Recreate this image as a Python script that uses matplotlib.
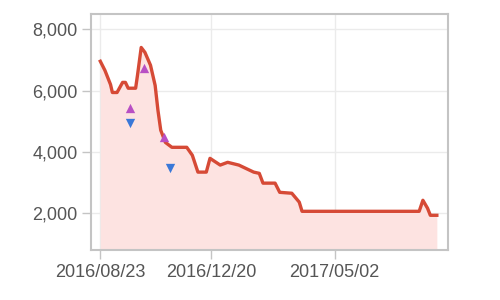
import pandas as pd
import numpy as np
import matplotlib
matplotlib.use('Agg')
from matplotlib import pyplot as plt
import matplotlib.dates as mdates
from matplotlib.ticker import FuncFormatter

plt.rcParams['font.family'] = ['Liberation Sans', 'DejaVu Sans']

# price line
dates = ['2016-08-23', '2016-08-28', '2016-09-03', '2016-09-05', '2016-09-10',
         '2016-09-16', '2016-09-19', '2016-09-22', '2016-09-30', '2016-10-02',
         '2016-10-06', '2016-10-10', '2016-10-16', '2016-10-21', '2016-10-24',
         '2016-10-27', '2016-11-01', '2016-11-08', '2016-11-24', '2016-11-30',
         '2016-12-06', '2016-12-15', '2016-12-19', '2016-12-30', '2017-01-07',
         '2017-01-19', '2017-02-04', '2017-02-10', '2017-02-14', '2017-02-27',
         '2017-03-04', '2017-03-17', '2017-03-25', '2017-03-28', '2017-08-01',
         '2017-08-05', '2017-08-10', '2017-08-13', '2017-08-20']
values = [6960, 6660, 6200, 5940, 5940,
          6270, 6270, 6080, 6080, 6500,
          7410, 7250, 6830, 6170, 5360,
          4710, 4310, 4150, 4150, 3890,
          3340, 3340, 3790, 3570, 3660,
          3570, 3340, 3300, 2980, 2980,
          2680, 2650, 2360, 2060, 2060,
          2420, 2160, 1930, 1930]

up_dates = ['2016-09-24', '2016-10-09', '2016-10-31']
up_values = [5450, 6730, 4480]
down_dates = ['2016-09-24', '2016-11-06']
down_values = [4930, 3470]

xticks = ['2016-08-23', '2016-12-20', '2017-05-02']

d = pd.to_datetime(dates)
fig = plt.figure(figsize=(5, 3), dpi=100)
ax = fig.add_axes([0.182, 0.167, 0.714, 0.786])

ax.fill_between(d, values, 800, color='#fde3e1', lw=0, zorder=1)
ax.plot(d, values, color='#d64a36', lw=2.4, zorder=3)
ax.scatter(pd.to_datetime(up_dates), up_values, marker='^', s=45, color='#b84fc4', zorder=4, lw=0)
ax.scatter(pd.to_datetime(down_dates), down_values, marker='v', s=45, color='#3a78d8', zorder=4, lw=0)

ax.set_ylim(800, 8500)
ax.set_xlim(pd.Timestamp('2016-08-13'), pd.Timestamp('2017-09-01'))
ax.set_yticks([2000, 4000, 6000, 8000])
ax.yaxis.set_major_formatter(FuncFormatter(lambda v, p: '{:,.0f}'.format(v)))
ax.set_xticks(pd.to_datetime(xticks))
ax.xaxis.set_major_formatter(mdates.DateFormatter('%Y/%m/%d'))

ax.grid(True, color='#ebebeb', lw=1, zorder=0)
ax.set_axisbelow(True)
for s in ax.spines.values():
    s.set_color('#c4c4c4')
    s.set_linewidth(1.5)
ax.tick_params(colors='#c4c4c4', labelcolor='#555555', labelsize=13, length=6.5, width=1)
ax.tick_params(axis='x', pad=4)
ax.tick_params(axis='y', pad=3)

fig.savefig('out.png', dpi=100)
